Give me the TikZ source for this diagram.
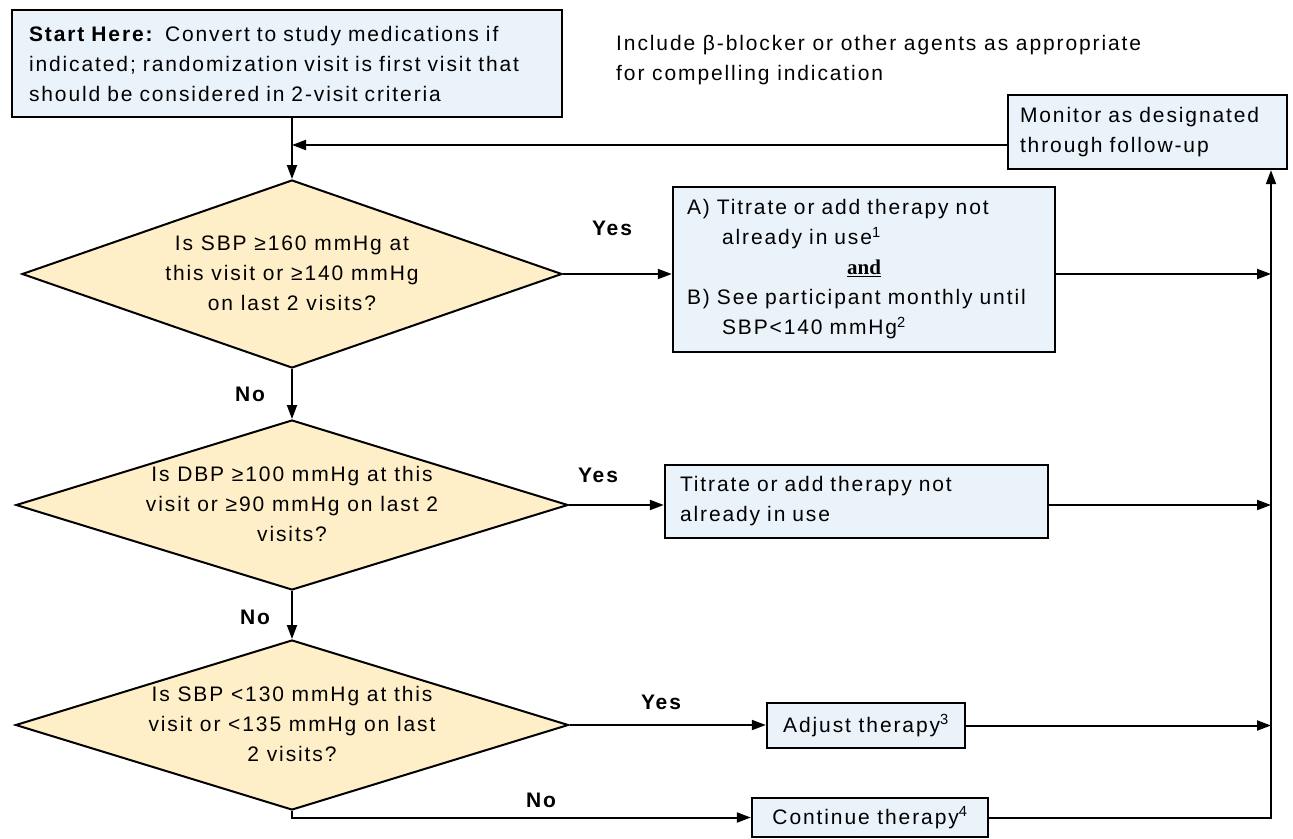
\documentclass[tikz,border=0pt]{standalone}
\usepackage{fontspec}
\setmainfont{Liberation Sans}[LetterSpace=9]
\newfontfamily\serifbold{Liberation Serif}
\usetikzlibrary{shapes.geometric,arrows.meta,calc}
\definecolor{boxfill}{HTML}{EAF2FA}
\definecolor{diafill}{HTML}{FFEFC9}
\newcommand{\dtext}[1]{\smash{\raisebox{-6pt}{\makebox[0pt]{\begin{tabular}{@{}c@{}}#1\end{tabular}}}}}
\begin{document}
\begin{tikzpicture}[x=1pt,y=-1pt,
  every node/.style={font=\fontsize{21}{30}\selectfont},
  box/.style={draw=black, fill=boxfill, line width=2.4pt, rectangle, inner ysep=0pt},
  dia/.style={draw=black, fill=diafill, line width=2pt, shape=diamond, inner sep=0pt},
  txt/.style={inner sep=0pt},
  lbl/.style={inner sep=0pt, font=\fontsize{21}{30}\selectfont\bfseries},
  arr/.style={line width=2pt, -{Triangle[length=14pt,width=10pt]}}]
\useasboundingbox (0,0) rectangle (1293,838);

% start box
\node[box, minimum width=550pt, minimum height=107pt, text width=516pt, inner xsep=17pt, align=left] (start) at (287,63.5)
  {\textbf{Start Here:} Convert to study medications if\\indicated; randomization visit is first visit that\\should be considered in 2-visit criteria};

\node[txt, anchor=west, align=left] (incl) at (616,60)
  {Include β-blocker or other agents as appropriate\\for compelling indication};

% monitor box
\node[box, minimum width=279pt, minimum height=74pt, text width=255pt, inner xsep=12pt, align=left] (mon) at (1147.5,132)
  {\mbox{Monitor as designated}\\\mbox{through follow-up}};

% diamonds
\node[dia, minimum width=540pt, minimum height=188pt] (d1) at (292,274)
  {\dtext{Is SBP ≥160 mmHg at\\this visit or ≥140 mmHg\\on last 2 visits?}};
\node[dia, minimum width=552pt, minimum height=170pt] (d2) at (292,505)
  {\dtext{Is DBP ≥100 mmHg at this\\visit or ≥90 mmHg on last 2\\visits?}};
\node[dia, minimum width=553pt, minimum height=170pt] (d3) at (292,725)
  {\dtext{Is SBP <130 mmHg at this\\visit or <135 mmHg on last\\2 visits?}};

% action boxes
\node[box, minimum width=382pt, minimum height=165pt, text width=354pt, inner xsep=14pt, align=left] (boxA) at (864,269.5)
  {A) Titrate or add therapy not\\
   \hspace*{35pt}already in use\textsuperscript{1}\\
   \makebox[\linewidth][c]{\serifbold\bfseries\underline{and}}\\
   \mbox{B) See participant monthly until}\\
   \hspace*{35pt}SBP<140 mmHg\textsuperscript{2}};
\node[box, minimum width=383pt, minimum height=73pt, text width=353pt, inner xsep=15pt, align=left] (boxB) at (856.5,501.5)
  {Titrate or add therapy not\\already in use};
\node[box, minimum width=198pt, minimum height=45pt, inner xsep=0pt] (adj) at (866,725.5)
  {Adjust therapy\textsuperscript{3}};
\node[box, minimum width=236pt, minimum height=39pt, inner xsep=0pt] (cont) at (870,817.5)
  {Continue therapy\textsuperscript{4}};

% labels
\node[lbl] (y1) at (612,228) {Yes};
\node[lbl] (n1) at (250,394) {No};
\node[lbl] (y2) at (598,475) {Yes};
\node[lbl] (n2) at (255,617) {No};
\node[lbl] (y3) at (661,702) {Yes};
\node[lbl] (n3) at (541,800) {No};

% helper coordinates
\coordinate (rx) at (1271,0);
\coordinate (lp) at (292,145);

% connectors
\draw[arr] (start.south -| d1.north) -- (d1.north);
\draw[arr] (mon.west |- lp) -- (lp);
\draw[arr] (d1.south) -- (d2.north);
\draw[arr] (d2.south) -- (d3.north);
\draw[arr] (d1.east) -- (d1.east -| boxA.west);
\draw[arr] (d2.east) -- (d2.east -| boxB.west);
\draw[arr] (d3.east) -- (d3.east -| adj.west);
\draw[arr] (d3.south) |- (cont.west);
\draw[arr] (d1.east -| boxA.east) -- (d1.east -| rx);
\draw[arr] (d2.east -| boxB.east) -- (d2.east -| rx);
\draw[arr] (adj.east) -- (adj.east -| rx);
\draw[arr] (cont.east) -| (mon.south -| rx);
\end{tikzpicture}
\end{document}
